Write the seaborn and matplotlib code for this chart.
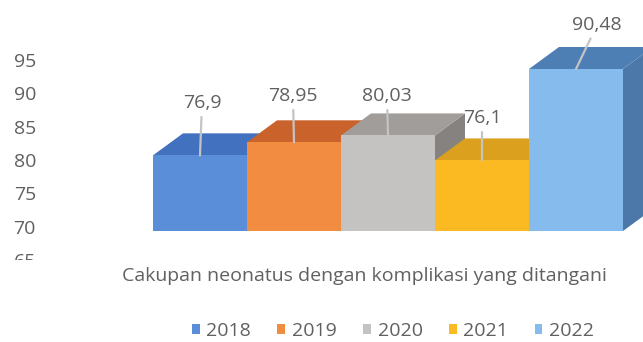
import matplotlib
matplotlib.use("Agg")
import matplotlib.pyplot as plt
from matplotlib.transforms import Bbox
import seaborn as sns
import pandas as pd

# ---- data ----
indicator = "Cakupan neonatus dengan komplikasi yang ditangani"
years = ["2018", "2019", "2020", "2021", "2022"]
values = [76.9, 78.95, 80.03, 76.1, 90.48]
value_labels = ["76,9", "78,95", "80,03", "76,1", "90,48"]
y_ticks = [65, 70, 75, 80, 85, 90, 95]

# ---- colours (front / top / side shading of each 3-D bar) ----
front_colors = ["#5b8ed9", "#f28c40", "#c4c3c1", "#fcba22", "#86bbee"]
top_colors = ["#4271c0", "#c9632b", "#a09d9a", "#dba11e", "#4d7fb5"]
side_colors = ["#3a63a8", "#a9521f", "#85827f", "#b98815", "#4b78a8"]
TEXT = "#606060"
LEADER = "#c4c4c4"

# ---- layout (pixels) ----
W, H = 643, 342
FS = 14
BASE = 65                    # floor value of the value axis
FRONT_PX = 6.358             # px per unit on the bars' front plane
BACK_PX = 6.68               # px per unit on the back wall (tick labels)
BACK_Y_BASE = 260.1          # pixel row of BASE on the back wall
FLOOR_Y = 231                # pixel row of the front edge of the floor
X_PX = 470                   # px per x unit (one category of width 1)
X_CENTER = 388               # pixel column of the category centre
DEPTH_DX, DEPTH_DY = 30, 22  # oblique depth offset in px
label_offsets = [(2, 52), (-1, 46), (-1, 39), (0, 42), (21, 44)]

sns.set_theme(style="white")
plt.rcParams["font.family"] = ["Open Sans", "DejaVu Sans"]

fig = plt.figure(figsize=(W / 100, H / 100), dpi=100)


def px_box(left, top, right, bottom):
    return [left / W, 1 - bottom / H, (right - left) / W, (bottom - top) / H]


AX_LEFT = 45
x_lim = ((AX_LEFT - X_CENTER) / X_PX, (W - X_CENTER) / X_PX)

# back wall: value axis tick labels
ax_back = fig.add_axes(px_box(AX_LEFT, 0, W, H))
ax_back.set_ylim(BASE - (H - BACK_Y_BASE) / BACK_PX, BASE + BACK_Y_BASE / BACK_PX)
ax_back.set_xlim(*x_lim)
ax_back.set_yticks(y_ticks)
ax_back.set_yticklabels([str(t) for t in y_ticks])
ax_back.set_xticks([])
ax_back.tick_params(axis="y", length=0, pad=6.5, labelsize=FS, labelcolor=TEXT)
ax_back.patch.set_visible(False)
for s in ax_back.spines.values():
    s.set_visible(False)

# front plane: the bars
ax = fig.add_axes(px_box(AX_LEFT, 0, W, FLOOR_Y))
ax.patch.set_visible(False)
df = pd.DataFrame({"indikator": [indicator] * len(years), "tahun": years, "nilai": values})
sns.barplot(data=df, x="indikator", y="nilai", hue="tahun", hue_order=years,
            palette=front_colors, saturation=1, width=1, gap=0, errorbar=None,
            linewidth=0, ax=ax, legend=True, zorder=3)
ax.set_ylim(BASE, BASE + FLOOR_Y / FRONT_PX)
ax.set_xlim(*x_lim)

dx = DEPTH_DX / X_PX
dy = DEPTH_DY / FRONT_PX
for i, cont in enumerate(ax.containers):
    bar = cont[0]
    x0, w, v = bar.get_x(), bar.get_width(), values[i]
    top = [(x0, v), (x0 + w, v), (x0 + w + dx, v + dy), (x0 + dx, v + dy)]
    side = [(x0 + w, BASE), (x0 + w, v), (x0 + w + dx, v + dy), (x0 + w + dx, BASE + dy)]
    ax.fill(*zip(*side), color=side_colors[i], lw=0, zorder=1 + i * 0.01)
    ax.fill(*zip(*top), color=top_colors[i], lw=0, zorder=1 + i * 0.01)
    ax.annotate(value_labels[i], xy=(x0 + w / 2, v), xytext=label_offsets[i],
                textcoords="offset pixels", ha="center", va="center",
                fontsize=FS, color=TEXT, zorder=6,
                arrowprops=dict(arrowstyle="-", color=LEADER, lw=1.6,
                                shrinkA=1, shrinkB=0))

ax.set_xticks([])
ax.set_yticks([])
for s in ax.spines.values():
    s.set_visible(False)
ax.set_ylabel("")
ax.set_xlabel(indicator, fontsize=FS, color=TEXT)
ax.xaxis.set_label_coords((364 - AX_LEFT) / (W - AX_LEFT), (FLOOR_Y - 267) / FLOOR_Y)

sns.move_legend(ax, "center", bbox_to_anchor=((393 - AX_LEFT) / (W - AX_LEFT),
                                              (FLOOR_Y - 331) / FLOOR_Y),
                ncol=5, frameon=False, title=None, fontsize=FS,
                handlelength=0.4, handleheight=0.4, handletextpad=0.35,
                columnspacing=1.35)
for t in ax.get_legend().get_texts():
    t.set_color(TEXT)

# the lowest tick label is cut at the bottom of the plot region
fig.canvas.draw()
for lab in ax_back.get_yticklabels():
    lab.set_clip_on(True)
    lab.set_clip_box(Bbox.from_extents(0, H - 260, W, H))

fig.savefig("out.png", dpi=100)
